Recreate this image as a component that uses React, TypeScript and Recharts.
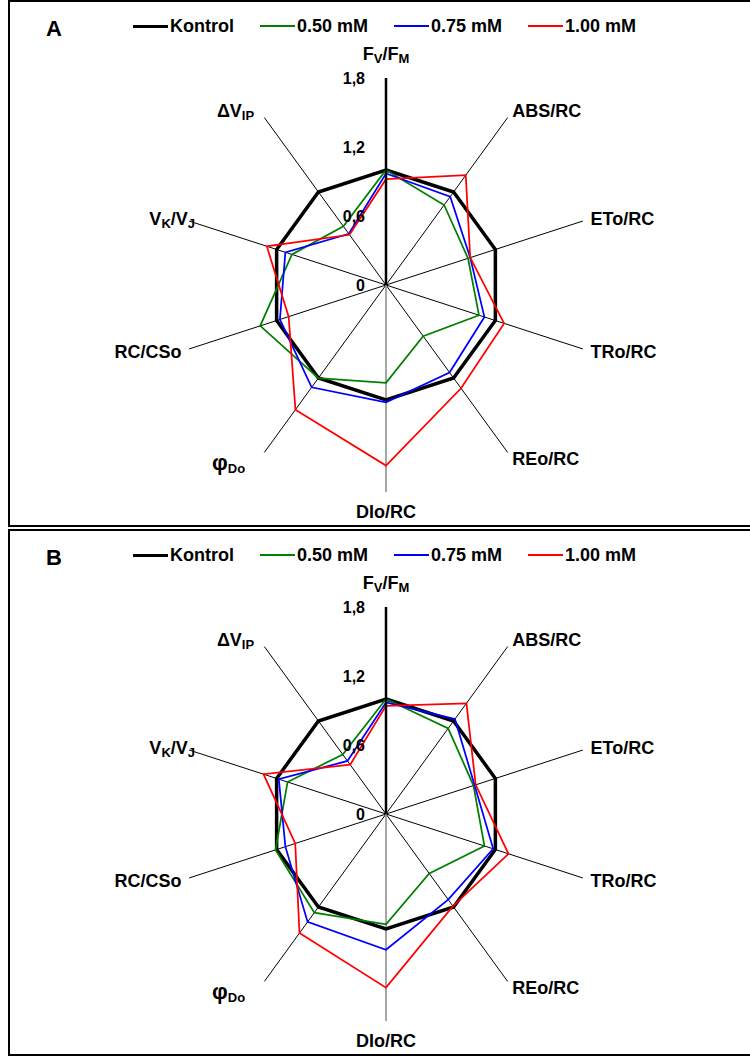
import React from "react";
import { RadarChart, Radar, PolarGrid, PolarAngleAxis, PolarRadiusAxis } from "recharts";

const params = ["FV/FM", "ABS/RC", "ETo/RC", "TRo/RC", "REo/RC", "DIo/RC", "φDo", "RC/CSo", "VK/VJ", "ΔVIP"];
const radiusTicks = [0, 0.6, 1.2, 1.8];

// panel A
const kontrolA = [1, 1, 1, 1, 1, 1, 1, 1, 1, 1];
const mm050A = [1.0, 0.86, 0.75, 0.85, 0.55, 0.85, 1.0, 1.15, 0.86, 0.63];
const mm075A = [0.97, 0.95, 0.77, 0.9, 0.94, 1.02, 1.1, 0.97, 0.92, 0.55];
const mm100A = [0.92, 1.18, 0.77, 1.08, 1.11, 1.57, 1.34, 0.89, 1.09, 0.54];

// panel B
const kontrolB = [1, 1, 1, 1, 1, 1, 1, 1, 1, 1];
const mm050B = [1.0, 0.92, 0.8, 0.9, 0.64, 0.96, 1.06, 1.01, 0.9, 0.64];
const mm075B = [0.97, 1.02, 0.81, 0.98, 0.92, 1.18, 1.16, 0.92, 0.98, 0.57];
const mm100B = [0.94, 1.19, 0.82, 1.12, 0.99, 1.51, 1.28, 0.83, 1.12, 0.53];

const series = [
  { key: "kontrol", name: "Kontrol", color: "#000000", width: 3.5, legendWidth: 3 },
  { key: "mm050", name: "0.50 mM", color: "#008000", width: 1.75, legendWidth: 2 },
  { key: "mm075", name: "0.75 mM", color: "#0000FF", width: 1.75, legendWidth: 2 },
  { key: "mm100", name: "1.00 mM", color: "#FF0000", width: 1.75, legendWidth: 2 },
];

const FONT = "'Liberation Sans', Arial, Helvetica, sans-serif";

type Part = { t: string; sub?: boolean; big?: boolean };
const labelParts: Record<string, Part[]> = {
  "FV/FM": [{ t: "F" }, { t: "V", sub: true }, { t: "/F" }, { t: "M", sub: true }],
  "VK/VJ": [{ t: "V" }, { t: "K", sub: true }, { t: "/V" }, { t: "J", sub: true }],
  "ΔVIP": [{ t: "ΔV" }, { t: "IP", sub: true }],
  "φDo": [{ t: "φ", big: true }, { t: "Do", sub: true }],
};
const labelShift: Record<string, [number, number]> = {
  "FV/FM": [0, -10],
  "DIo/RC": [0, 17.5],
  "φDo": [-14.5, 11],
  "VK/VJ": [13.5, 6.4],
  "ΔVIP": [-5.5, 6.4],
};

function AngleTick(props: any) {
  const { x, y, payload, textAnchor } = props;
  const name: string = payload.value;
  const [dx, dy] = labelShift[name] || [0, 6.4];
  const parts = labelParts[name] || [{ t: name }];
  let cur = 0;
  return (
    <text
      x={x + dx}
      y={y + dy}
      textAnchor={textAnchor}
      fontFamily={FONT}
      fontWeight="bold"
      fontSize={18}
      fill="#000"
    >
      {parts.map((p, i) => {
        const off = p.sub ? 3 : 0;
        const shift = off - cur;
        cur = off;
        return (
          <tspan key={i} dy={shift} fontSize={p.sub ? 13 : p.big ? 22 : 18}>
            {p.t}
          </tspan>
        );
      })}
    </text>
  );
}

function RadiusTick(props: any) {
  const { x, y, payload } = props;
  return (
    <text
      x={x - 21}
      y={y + 5.8}
      textAnchor="end"
      fontFamily={FONT}
      fontWeight="bold"
      fontSize={16}
      fill="#000"
    >
      {String(payload.value).replace(".", ",")}
    </text>
  );
}

const spokeAngles = params.map((_, i) => 90 - (i * 360) / params.length).filter((a) => a !== -90);

function Panel({ top, letter, rows }: { top: number; letter: string; rows: any[] }) {
  return (
    <div style={{ position: "absolute", left: 0, top, width: 750, height: 528 }}>
      <div
        style={{
          position: "absolute",
          left: 8,
          top: 0,
          width: 760,
          height: 527,
          border: "2px solid #000",
          boxSizing: "border-box",
        }}
      />
      <div style={{ position: "absolute", left: 0, top: 0 }}>
        <RadarChart
          width={750}
          height={528}
          data={rows}
          cx={386}
          cy={285}
          outerRadius={207}
          margin={{ top: 0, right: 0, bottom: 0, left: 0 }}
        >
          <PolarGrid polarAngles={spokeAngles} polarRadius={[]} stroke="#000" strokeWidth={1} />
          <PolarGrid polarAngles={[-90]} polarRadius={[]} stroke="#888" strokeWidth={1.5} />
          <PolarAngleAxis dataKey="param" tick={AngleTick} axisLine={false} tickLine={false} />
          {series.map((s) => (
            <Radar
              key={s.key}
              dataKey={s.key}
              name={s.name}
              stroke={s.color}
              strokeWidth={s.width}
              fill="none"
              fillOpacity={0}
              dot={false}
              isAnimationActive={false}
            />
          ))}
          <PolarRadiusAxis
            angle={90}
            type="number"
            scale="linear"
            domain={[0, 1.8]}
            allowDataOverflow
            allowDecimals
            tickCount={4}
            ticks={radiusTicks}
            tick={RadiusTick}
            axisLine={{ stroke: "#000", strokeWidth: 2.5 }}
            tickLine={false}
          />
        </RadarChart>
      </div>
      <div
        style={{
          position: "absolute",
          left: 46,
          top: 18,
          fontFamily: FONT,
          fontWeight: "bold",
          fontSize: 22,
          lineHeight: 1,
        }}
      >
        {letter}
      </div>
      <div
        style={{
          position: "absolute",
          left: 133,
          top: 16,
          height: 20,
          display: "flex",
          alignItems: "center",
          gap: 26,
          fontFamily: FONT,
          fontWeight: "bold",
          fontSize: 18,
          lineHeight: 1,
          whiteSpace: "nowrap",
        }}
      >
        {series.map((s) => (
          <div key={s.key} style={{ display: "flex", alignItems: "center" }}>
            <span
              style={{ display: "inline-block", width: 35, height: s.legendWidth, background: s.color, marginRight: 2 }}
            />
            <span>{s.name}</span>
          </div>
        ))}
      </div>
    </div>
  );
}

const buildRows = (k: number[], g: number[], b: number[], r: number[]) =>
  params.map((p, i) => ({ param: p, kontrol: k[i], mm050: g[i], mm075: b[i], mm100: r[i] }));

export default function App() {
  const rowsA = buildRows(kontrolA, mm050A, mm075A, mm100A);
  const rowsB = buildRows(kontrolB, mm050B, mm075B, mm100B);
  return (
    <div
      style={{
        position: "absolute",
        left: 0,
        top: 0,
        width: 750,
        height: 1057,
        overflow: "hidden",
        background: "#fff",
      }}
    >
      <Panel top={0} letter="A" rows={rowsA} />
      <Panel top={529} letter="B" rows={rowsB} />
    </div>
  );
}
